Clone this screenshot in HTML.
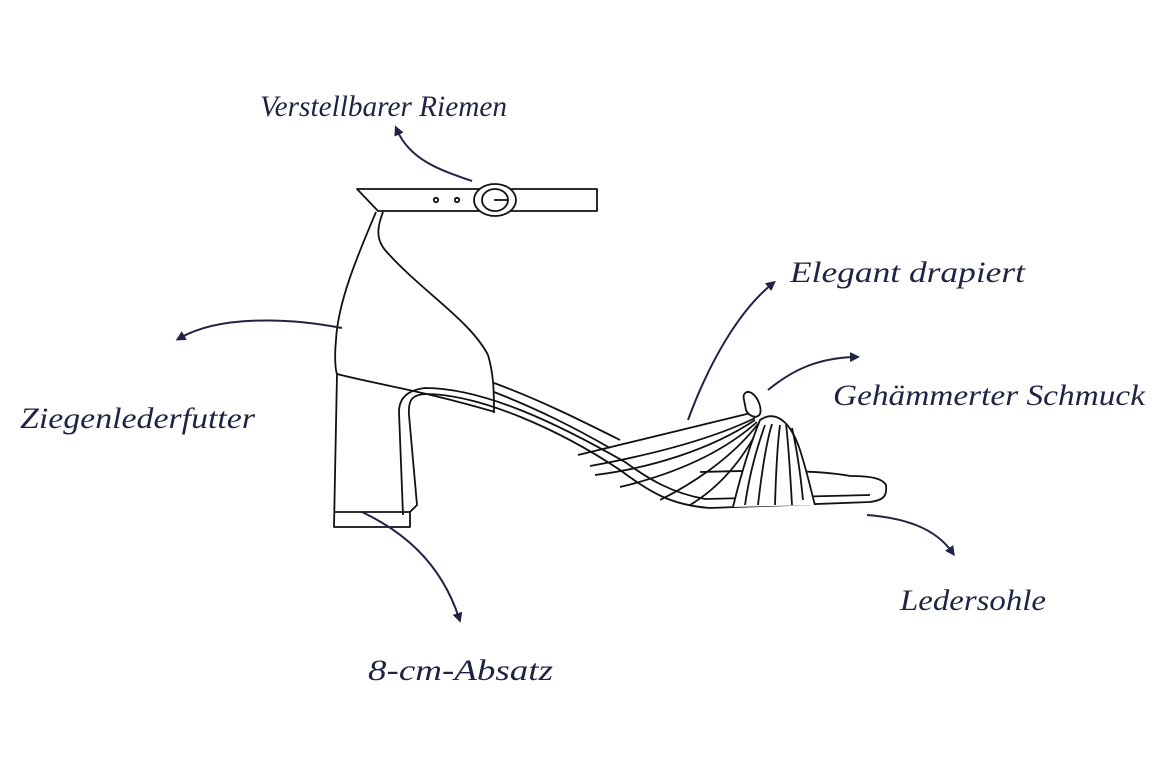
<!DOCTYPE html>
<html><head><meta charset="utf-8"><style>
html,body{margin:0;padding:0;background:#fff;width:1170px;height:763px;overflow:hidden}
svg{display:block}
text{font-family:"Liberation Serif",serif;font-style:italic;fill:#1f2445;font-size:30px}
</style></head><body>
<svg width="1170" height="763" viewBox="0 0 1170 763" xmlns="http://www.w3.org/2000/svg">
<defs><marker id="a" markerWidth="10" markerHeight="10" refX="5" refY="5" orient="auto" markerUnits="userSpaceOnUse"><path d="M0,0 L10,5 L0,10 z" fill="#1f2445"/></marker></defs>
<g fill="none" stroke="#111" stroke-width="1.8" stroke-linejoin="round">
<path d="M357,189 L597,189 L597,211 L378,211 Z"/>
<ellipse cx="495" cy="200" rx="21" ry="16" fill="#fff"/>
<ellipse cx="495" cy="200" rx="13" ry="11"/>
<path d="M494,200 L508,200"/>
<circle cx="436" cy="200" r="2.2"/><circle cx="457" cy="200" r="2.2"/>
<path d="M376,212 C360,250 338,300 336,340 C334,360 336,372 337,374"/>
<path d="M383,212 C378,225 375,238 385,250 C420,290 470,320 488,355 C494,375 494,395 494,413"/>
<path d="M337,374 C380,385 420,390 495,412"/>
<path d="M337,374 L334,527 L410,527 L410,512 L334,512"/>
<path d="M410,512 L417,505 L409,415 C408,400 412,395 425,394 C480,394 560,430 620,470 C650,492 670,505 710,508 L870,502 C885,500 887,495 886,485 C882,478 870,476 850,476"/>
<path d="M403,515 L399,412 C399,398 408,390 425,388 C485,388 560,425 625,462 C650,480 672,493 705,499 L870,495"/>
<path d="M700,472 C760,470 820,470 850,476"/>
<path d="M494,383 C540,400 580,420 620,440"/>
<path d="M494,392 C540,410 575,428 610,448"/>
<path d="M578,455 C640,440 700,425 755,412"/>
<path d="M590,466 C650,455 710,440 755,418"/>
<path d="M595,475 C650,468 710,450 755,420"/>
<path d="M620,487 C670,475 720,455 757,422"/>
<path d="M660,500 C690,485 730,460 758,424"/>
<path d="M690,505 C715,490 740,465 760,426"/>
<path d="M733,507 C742,470 752,440 760,420 C775,410 790,420 800,450 C808,475 812,495 815,505" fill="#fff"/>
<path d="M745,505 C750,470 758,445 765,425"/>
<path d="M758,505 C762,470 767,440 772,424"/>
<path d="M775,505 C776,470 778,440 780,425"/>
<path d="M792,505 C790,470 788,440 786,424"/>
<path d="M803,500 C800,470 796,445 792,428"/>
<path d="M744,400 C742,392 748,390 753,394 C758,398 762,408 760,414 C756,420 748,415 746,410 Z" fill="#fff"/>
</g>
<g fill="none" stroke="#1f2445" stroke-width="2">
<path d="M472,181 C440,170 410,160 397,130" marker-end="url(#a)"/>
<path d="M342,328 C290,318 220,315 180,338" marker-end="url(#a)"/>
<path d="M362,512 C400,530 440,560 459,618" marker-end="url(#a)"/>
<path d="M688,420 C710,360 740,310 772,284" marker-end="url(#a)"/>
<path d="M768,390 C790,372 815,358 855,357" marker-end="url(#a)"/>
<path d="M867,515 C905,518 935,528 952,552" marker-end="url(#a)"/>
</g>
<text x="260" y="116" textLength="247" lengthAdjust="spacingAndGlyphs">Verstellbarer Riemen</text>
<text x="20" y="428" textLength="235" lengthAdjust="spacingAndGlyphs">Ziegenlederfutter</text>
<text x="368" y="680" textLength="185" lengthAdjust="spacingAndGlyphs">8-cm-Absatz</text>
<text x="790" y="282" textLength="235" lengthAdjust="spacingAndGlyphs">Elegant drapiert</text>
<text x="833" y="405" textLength="312" lengthAdjust="spacingAndGlyphs">Gehämmerter Schmuck</text>
<text x="900" y="610" textLength="146" lengthAdjust="spacingAndGlyphs">Ledersohle</text>
</svg>
</body></html>
